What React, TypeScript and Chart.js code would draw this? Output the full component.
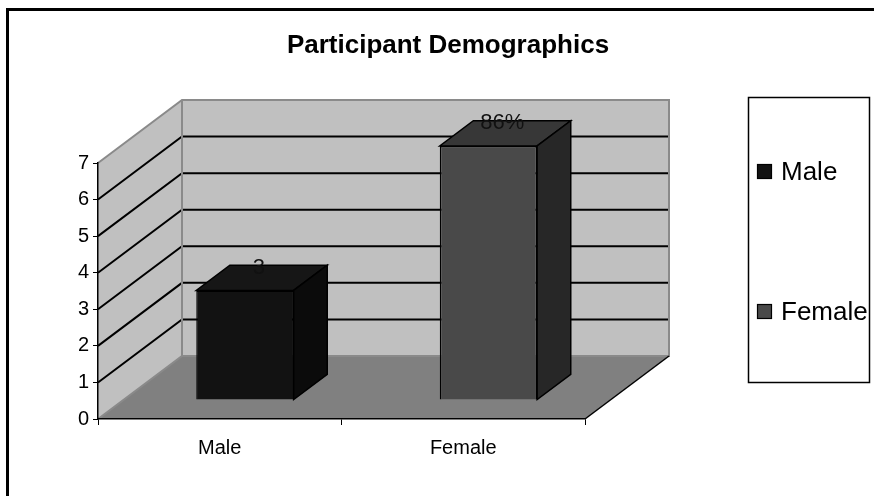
import React, { useEffect, useRef } from "react";
import { Chart, registerables } from "chart.js";

Chart.register(...registerables);

// Series data
const categories = ["Male", "Female"];
const values = [3, 6.95];
const valueLabels = ["3", "86%"];
const yMin = 0;
const yMax = 7;
const yStep = 1;

// Colours of the three visible faces of each column
const faceColors = ["#121212", "#494949"];
const topColors = ["#161616", "#373737"];
const sideColors = ["#0b0b0b", "#272727"];

const FONT = "'Liberation Sans', Arial, Helvetica, sans-serif";
const W = 874;
const H = 496;

// Depth vector of the 3D box (floor front edge -> back wall)
const DEPTH_X = 84;
const DEPTH_Y = -63;
// Columns occupy this slice of the depth
const BAR_FRONT = 0.3;
const BAR_BACK = 0.7;

const WALL = "#c0c0c0";
const FLOOR = "#808080";
const EDGE = "#8a8a8a";

const threeDPlugin = {
  id: "threeD",
  beforeDraw(chart: any) {
    const { ctx, chartArea } = chart;
    const ys = chart.scales.y;
    const left = chartArea.left;
    const right = chartArea.right;
    const top = ys.getPixelForValue(yMax);
    const bottom = ys.getPixelForValue(yMin);
    const dx = DEPTH_X;
    const dy = DEPTH_Y;

    ctx.save();
    ctx.fillStyle = "#ffffff";
    ctx.fillRect(0, 0, W, H);

    // outer frame
    ctx.strokeStyle = "#000";
    ctx.lineWidth = 3;
    ctx.beginPath();
    ctx.moveTo(7.5, H + 5);
    ctx.lineTo(7.5, 9.5);
    ctx.lineTo(W + 5, 9.5);
    ctx.stroke();

    // title
    ctx.fillStyle = "#000";
    ctx.font = `bold 26px ${FONT}`;
    ctx.textAlign = "center";
    ctx.textBaseline = "middle";
    ctx.fillText("Participant Demographics", 448, 46);

    // side wall
    ctx.fillStyle = WALL;
    ctx.beginPath();
    ctx.moveTo(left, top);
    ctx.lineTo(left + dx, top + dy);
    ctx.lineTo(left + dx, bottom + dy);
    ctx.lineTo(left, bottom);
    ctx.closePath();
    ctx.fill();

    // back wall
    ctx.fillRect(left + dx, top + dy, right - left, bottom - top);

    // floor
    ctx.fillStyle = FLOOR;
    ctx.beginPath();
    ctx.moveTo(left, bottom);
    ctx.lineTo(right, bottom);
    ctx.lineTo(right + dx, bottom + dy);
    ctx.lineTo(left + dx, bottom + dy);
    ctx.closePath();
    ctx.fill();

    // gridlines on both walls
    ctx.strokeStyle = "#000";
    ctx.lineWidth = 2;
    for (let v = yMin + yStep; v < yMax; v += yStep) {
      const py = ys.getPixelForValue(v);
      ctx.beginPath();
      ctx.moveTo(left, py);
      ctx.lineTo(left + dx, py + dy);
      ctx.lineTo(right + dx, py + dy);
      ctx.stroke();
    }

    // wall edges
    ctx.strokeStyle = EDGE;
    ctx.lineWidth = 2;
    ctx.beginPath();
    ctx.moveTo(left, top);
    ctx.lineTo(left + dx, top + dy);
    ctx.lineTo(right + dx, top + dy);
    ctx.lineTo(right + dx, bottom + dy);
    ctx.lineTo(left + dx, bottom + dy);
    ctx.lineTo(left, bottom);
    ctx.moveTo(left + dx, top + dy);
    ctx.lineTo(left + dx, bottom + dy);
    ctx.stroke();

    // right edge of floor
    ctx.strokeStyle = "#000";
    ctx.lineWidth = 1.5;
    ctx.beginPath();
    ctx.moveTo(right, bottom);
    ctx.lineTo(right + dx, bottom + dy);
    ctx.stroke();
    ctx.restore();
  },
  beforeDatasetsDraw(chart: any) {
    const { ctx } = chart;
    ctx.save();
    ctx.translate(BAR_FRONT * DEPTH_X, BAR_FRONT * DEPTH_Y);
  },
  afterDatasetsDraw(chart: any) {
    const { ctx } = chart;
    ctx.restore();
    const meta = chart.getDatasetMeta(0);
    const fx = BAR_FRONT * DEPTH_X;
    const fy = BAR_FRONT * DEPTH_Y;
    const ddx = (BAR_BACK - BAR_FRONT) * DEPTH_X;
    const ddy = (BAR_BACK - BAR_FRONT) * DEPTH_Y;
    ctx.save();
    ctx.strokeStyle = "#000";
    ctx.lineWidth = 1.5;
    ctx.lineJoin = "miter";
    meta.data.forEach((el: any, i: number) => {
      const p = el.getProps(["x", "y", "base", "width"], true);
      const x0 = p.x - p.width / 2 + fx;
      const x1 = p.x + p.width / 2 + fx;
      const t = p.y + fy;
      const b = p.base + fy;
      // top face
      ctx.fillStyle = topColors[i];
      ctx.beginPath();
      ctx.moveTo(x0, t);
      ctx.lineTo(x1, t);
      ctx.lineTo(x1 + ddx, t + ddy);
      ctx.lineTo(x0 + ddx, t + ddy);
      ctx.closePath();
      ctx.fill();
      ctx.stroke();
      // right side face
      ctx.fillStyle = sideColors[i];
      ctx.beginPath();
      ctx.moveTo(x1, t);
      ctx.lineTo(x1 + ddx, t + ddy);
      ctx.lineTo(x1 + ddx, b + ddy);
      ctx.lineTo(x1, b);
      ctx.closePath();
      ctx.fill();
      ctx.stroke();
      // value label above the column, at mid depth
      ctx.fillStyle = "#111";
      ctx.font = `22px ${FONT}`;
      ctx.textAlign = "center";
      ctx.textBaseline = "bottom";
      ctx.fillText(valueLabels[i], p.x + 0.5 * DEPTH_X - 3, p.y + 0.5 * DEPTH_Y + 1);
    });
    ctx.restore();
  },
  afterDraw(chart: any) {
    const { ctx } = chart;
    ctx.save();
    // legend box
    ctx.strokeStyle = "#000";
    ctx.lineWidth = 1.5;
    ctx.fillStyle = "#fff";
    ctx.fillRect(748, 97, 122, 285);
    ctx.strokeRect(748.5, 97.5, 121, 285);
    const rows = [172, 312];
    categories.forEach((c, i) => {
      const cy = rows[i];
      ctx.fillStyle = faceColors[i];
      ctx.fillRect(757, cy - 8, 15, 15);
      ctx.lineWidth = 1.2;
      ctx.strokeRect(757.5, cy - 7.5, 14, 14);
      ctx.fillStyle = "#000";
      ctx.font = `26px ${FONT}`;
      ctx.textAlign = "left";
      ctx.textBaseline = "middle";
      ctx.fillText(c, 781, cy + 1);
    });
    ctx.restore();
  },
};

export default function App() {
  const ref = useRef<HTMLCanvasElement | null>(null);

  useEffect(() => {
    if (!ref.current) return;
    const chart = new Chart(ref.current, {
      type: "bar",
      data: {
        labels: categories,
        datasets: [
          {
            label: "Participants",
            data: values,
            backgroundColor: faceColors,
            borderColor: "#000",
            borderWidth: 1.5,
            barPercentage: 0.4,
            categoryPercentage: 1,
            clip: false,
          } as any,
        ],
      },
      options: {
        responsive: false,
        animation: false,
        devicePixelRatio: 1,
        layout: { padding: { left: 0, top: 163, right: 289, bottom: 0 } },
        plugins: {
          legend: { display: false },
          title: { display: false },
          tooltip: { enabled: false },
        },
        scales: {
          x: {
            grid: { drawOnChartArea: false, drawTicks: true, tickLength: 6, color: "#000", offset: true },
            border: { color: "#000", width: 1.5 },
            ticks: { color: "#000", font: { family: FONT, size: 20 }, padding: 11 },
            afterFit: (s: any) => {
              s.height = 77;
            },
          },
          y: {
            min: yMin,
            max: yMax,
            ticks: { stepSize: yStep, color: "#000", font: { family: FONT, size: 20 }, padding: 4 },
            grid: { drawOnChartArea: false, drawTicks: true, tickLength: 5, color: "#000" },
            border: { color: "#000", width: 1.5 },
            afterFit: (s: any) => {
              s.width = 98;
            },
          },
        },
      },
      plugins: [threeDPlugin],
    });
    return () => chart.destroy();
  }, []);

  return (
    <div style={{ position: "fixed", left: 0, top: 0, width: W, height: H, background: "#fff" }}>
      <canvas ref={ref} width={W} height={H} style={{ display: "block" }} />
    </div>
  );
}
